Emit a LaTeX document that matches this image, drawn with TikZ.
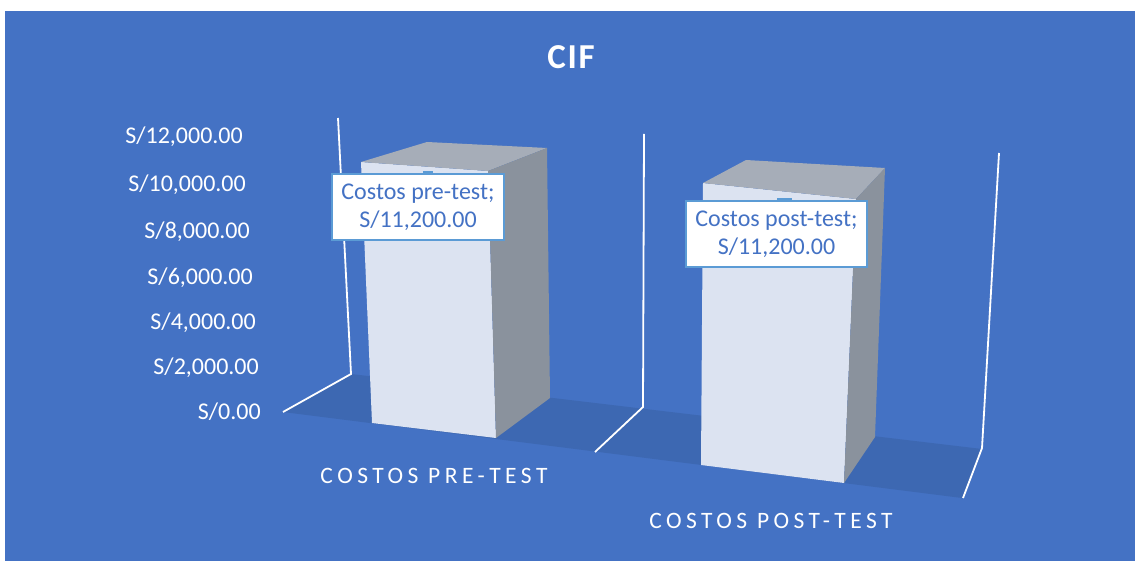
\documentclass[tikz,border=0pt]{standalone}
\usepackage{fontspec}
\setmainfont{Carlito}
\definecolor{bg}{HTML}{4472C4}
\definecolor{floorc}{HTML}{3D68B2}
\definecolor{frontc}{HTML}{DCE3F1}
\definecolor{sidec}{HTML}{8A929D}
\definecolor{topc}{HTML}{A6ADB8}
\definecolor{lblborder}{HTML}{5B9BD5}
\definecolor{lbltext}{HTML}{4472C4}
\tikzset{
  gridline/.style={draw=white, line width=1.8pt, line join=miter},
  ylabel/.style={anchor=east, text=white, inner sep=0pt, font=\fontsize{24}{28}\selectfont},
  catlabel/.style={text=white, inner sep=0pt, font=\fontsize{23.5}{28}\selectfont\addfontfeature{LetterSpace=19}},
  datalabel/.style={draw=lblborder, line width=1.5pt, fill=white, text=lbltext, align=center,
     inner sep=0pt, font=\fontsize{24}{28}\selectfont},
  barfront/.style={fill=frontc},
  barside/.style={fill=sidec},
  bartop/.style={fill=topc},
}
\begin{document}
\begin{tikzpicture}[x=1pt,y=-1pt]
\useasboundingbox (0,0) rectangle (1135,561);
\fill[white] (0,0) rectangle (1135,561);
\fill[bg] (5,11) rectangle (1135,561);
% floor
\fill[floorc] (283,412) -- (351,374) -- (982,449) -- (962,498) -- cycle;
% gridlines
\draw[gridline] (338,118) -- (351,374) -- (283,412);
\draw[gridline] (644,134) -- (643,407) -- (595,452);
\draw[gridline] (999,153) -- (982,448) -- (963,498);
% bar 1
\fill[barfront] (361,162) -- (488,171) -- (496,438) -- (372,423) -- cycle;
\fill[bartop] (361,162) -- (427,142) -- (547,148) -- (488,171) -- cycle;
\fill[barside] (488,171) -- (547,148) -- (550,398) -- (496,438) -- cycle;
% bar 2
\fill[barfront] (703,183) -- (856,199) -- (844,483) -- (701,465) -- cycle;
\fill[bartop] (703,183) -- (746,160) -- (885,168) -- (856,199) -- cycle;
\fill[barside] (856,199) -- (885,168) -- (875,437) -- (844,483) -- cycle;
% title
\node[text=white, font=\fontsize{35}{38}\selectfont\bfseries\addfontfeature{LetterSpace=5}] (title) at (571,57) {CIF};
% y labels
\node[ylabel] (y12) at (243,137) {S/12,000.00};
\node[ylabel] (y10) at (246,185) {S/10,000.00};
\node[ylabel] (y8) at (250,232) {S/8,000.00};
\node[ylabel] (y6) at (253,278) {S/6,000.00};
\node[ylabel] (y4) at (256,323) {S/4,000.00};
\node[ylabel] (y2) at (259,368) {S/2,000.00};
\node[ylabel] (y0) at (261,412) {S/0.00};
% category labels
\node[catlabel] (c1) at (434,476) {COSTOS PRE-TEST};
\node[catlabel] (c2) at (771,521) {COSTOS POST-TEST};
% data labels
\fill[lblborder] (423,171.5) rectangle (433,175);
\fill[lblborder] (777,198.5) rectangle (792,202);
\node[datalabel, minimum width=172pt, minimum height=66pt] (d1) at (418,207) {Costos pre-test;\\S/11,200.00};
\node[datalabel, minimum width=181pt, minimum height=66pt] (d2) at (776.5,234) {Costos post-test;\\S/11,200.00};
\end{tikzpicture}
\end{document}
